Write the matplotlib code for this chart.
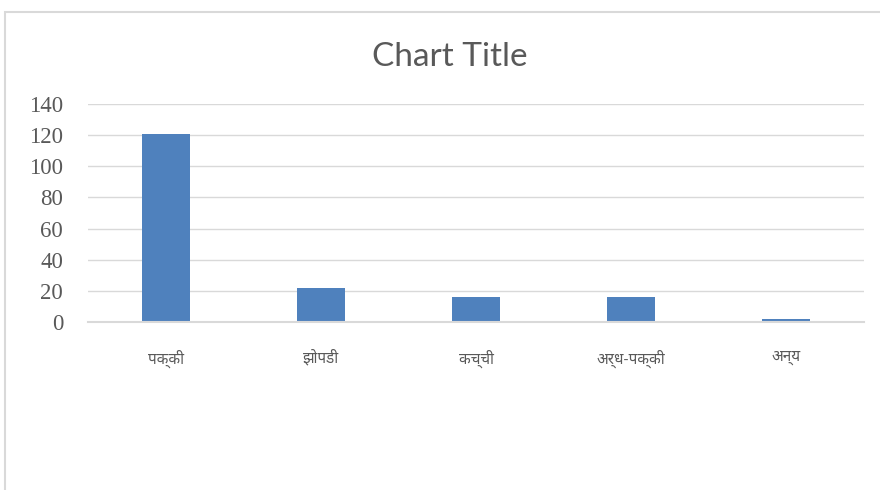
import matplotlib
matplotlib.use("Agg")
import matplotlib.pyplot as plt
from matplotlib.patches import Rectangle

# Data
categories = ["पक्की", "झोपडी", "कच्ची", "अर्ध-पक्की", "अन्य"]
values = [121, 22, 16, 16, 2]
y_ticks = [0, 20, 40, 60, 80, 100, 120, 140]

BAR_COLOR = "#4F81BD"
GRID_COLOR = "#D9D9D9"
TEXT_COLOR = "#595959"
DEVA_FONTS = ["Noto Sans Devanagari", "Lohit Devanagari", "Mangal", "Noto Sans", "DejaVu Sans"]

fig = plt.figure(figsize=(8.8, 4.9), dpi=100)

# chart area frame (cropped on the right and bottom in the reference)
fig.patches.append(
    Rectangle((5 / 880, -0.1), 1.2, 1 - 12 / 490 + 0.1, transform=fig.transFigure,
              fill=False, edgecolor=GRID_COLOR, linewidth=1.5)
)

ax = fig.add_axes([88 / 880, 1 - 322 / 490, (864 - 88) / 880, (322 - 104) / 490])

x = range(len(categories))
ax.bar(x, values, width=0.31, color=BAR_COLOR, zorder=2)

ax.set_xlim(-0.5, len(categories) - 0.5)
ax.set_ylim(0, 140)
ax.set_yticks(y_ticks)
ax.set_yticklabels([str(v) for v in y_ticks], color=TEXT_COLOR, fontsize=16.5,
                   family=["Liberation Serif", "DejaVu Serif"])
ax.set_xticks(list(x))
ax.set_xticklabels(categories, color=TEXT_COLOR, fontsize=11, family=DEVA_FONTS)
ax.tick_params(axis="y", length=0, pad=18)
ax.tick_params(axis="x", length=0, pad=20)

ax.grid(axis="y", color=GRID_COLOR, linewidth=1, zorder=0)
for side in ["top", "right", "left"]:
    ax.spines[side].set_visible(False)
ax.spines["bottom"].set_color(GRID_COLOR)
ax.spines["bottom"].set_linewidth(1.5)
ax.spines["bottom"].set_zorder(3)

fig.text(450 / 880, 1 - 57 / 490, "Chart Title", ha="center", va="center",
         fontsize=24, color=TEXT_COLOR, family=["Lato", "DejaVu Sans"])

fig.savefig("out.png", dpi=100)
